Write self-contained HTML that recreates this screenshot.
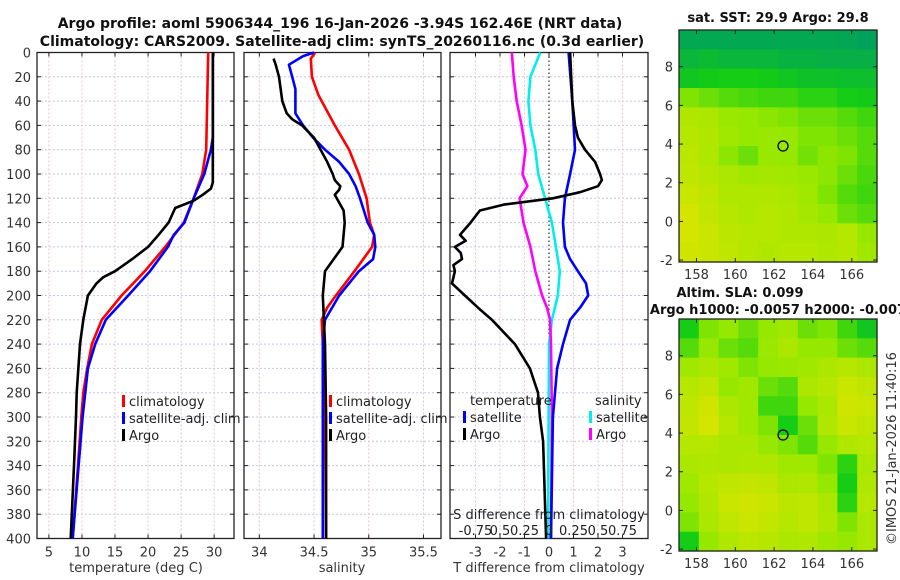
<!DOCTYPE html>
<html><head><meta charset="utf-8">
<style>
body{margin:0;background:#fff;}
svg{display:block;font-family:"DejaVu Sans","Liberation Sans",sans-serif;}
.tk{font-size:13px;fill:#333;}
.tt{font-size:13px;font-weight:bold;fill:#111;}
.tm{font-size:14px;font-weight:bold;fill:#111;}
.lg{font-size:13px;fill:#222;}
</style></head>
<body>
<svg id="chart" width="900" height="580" viewBox="0 0 900 580">
<text class="tm" x="340" y="28" text-anchor="middle">Argo profile: aoml 5906344_196 16-Jan-2026 -3.94S 162.46E (NRT data)</text>
<text class="tm" x="342" y="46" text-anchor="middle">Climatology: CARS2009. Satellite-adj clim: synTS_20260116.nc (0.3d earlier)</text>
<text class="tt" x="778" y="22" text-anchor="middle">sat. SST: 29.9 Argo: 29.8</text>
<text class="tt" x="740" y="297" text-anchor="middle">Altim. SLA: 0.099</text>
<text class="tt" x="778" y="314" text-anchor="middle">Argo h1000: -0.0057 h2000: -0.007</text>
<text class="tk" transform="translate(896,545) rotate(-90)">©IMOS 21-Jan-2026 11:40:16</text>
<g id="g"></g>
</svg>
<script>
// ---------- data ----------
const depthTicks=[0,20,40,60,80,100,120,140,160,180,200,220,240,260,280,300,320,340,360,380,400];
const tempTicks=[5,10,15,20,25,30];
const salTicks=[34,34.5,35,35.5];
const dTTicks=[-3,-2,-1,0,1,2,3];
const dSTickLabels=["-0.75","0.5","0.25","0","0.25","0.5","0.75"];
const dSTickVals=[-0.75,-0.5,-0.25,0,0.25,0.5,0.75];

const tClimD=[0,80,100,120,140,150,160,180,200,220,240,260,280,300,340,400];
const tClimV=[29.1,28.8,28.2,26.9,25.4,24,22.6,19.5,16,13,11.5,10.8,10.2,9.9,9.4,8.6];
const tSatD=[0,70,80,100,120,140,150,160,180,200,220,240,260,300,340,400];
const tSatV=[29.8,29.8,29.5,28.5,26.9,25.5,23.9,23,20.3,17,13.6,12,10.9,10.1,9.5,8.6];
const tArgoD=[0,107,112,117,122,128,140,150,160,170,180,185,190,200,220,240,280,300,340,400];
const tArgoV=[29.8,29.8,29.5,28.3,26.9,24.1,23.1,21.6,20,17.6,15,13.2,12.2,10.9,10.2,9.7,9.2,9.1,8.8,8.3];

const sClimD=[0,5,20,35,40,60,80,100,120,140,150,160,180,200,210,220,240,300,400];
const sClimV=[34.51,34.47,34.48,34.54,34.57,34.69,34.82,34.91,34.98,35.01,35.05,35.03,34.87,34.7,34.62,34.57,34.58,34.6,34.61];
const sSatD=[0,3,10,20,30,50,60,70,80,90,100,110,120,140,150,160,170,180,200,220,240,300,400];
const sSatV=[34.5,34.4,34.27,34.3,34.33,34.33,34.4,34.49,34.6,34.73,34.82,34.88,34.92,34.99,35.05,35.06,35.04,34.91,34.73,34.6,34.58,34.58,34.58];
const sArgoD=[5,10,20,40,50,55,60,70,80,90,100,105,110,113,117,122,130,140,160,170,180,200,220,240,300,400];
const sArgoV=[34.13,34.15,34.18,34.21,34.25,34.3,34.39,34.5,34.56,34.62,34.67,34.69,34.74,34.73,34.69,34.72,34.77,34.78,34.76,34.68,34.6,34.58,34.59,34.6,34.61,34.61];

const dTSatD=[0,40,80,100,120,140,160,170,180,190,200,210,220,240,260,300,400];
const dTSatV=[0.8,0.95,1.06,0.86,0.65,0.57,0.65,0.86,1.18,1.51,1.6,1.27,0.86,0.57,0.33,0.16,0.08];
const dTArgoD=[0,40,60,70,80,90,100,105,110,115,120,125,130,140,150,155,160,165,170,175,180,190,200,210,220,240,260,280,300,320,400];
const dTArgoV=[0.86,0.95,1.06,1.18,1.47,1.88,2.08,2.16,2.0,1.27,0.16,-1.8,-2.82,-3.2,-3.63,-3.4,-3.84,-3.6,-3.55,-3.9,-3.84,-3.96,-3.43,-2.9,-2.33,-1.39,-0.78,-0.45,-0.37,-0.24,-0.12];
const dSSatD=[0,10,20,40,60,80,100,120,140,160,180,200,220,240,400];
const dSSatV=[-0.09,-0.14,-0.19,-0.21,-0.19,-0.14,-0.11,-0.04,0.03,0.07,0.11,0.09,0.03,0,-0.01];
const dSArgoD=[0,20,40,60,80,100,110,120,140,160,180,200,210,220,240,300,400];
const dSArgoV=[-0.38,-0.36,-0.33,-0.28,-0.24,-0.27,-0.22,-0.3,-0.26,-0.19,-0.14,-0.07,-0.02,0.01,0.02,0.03,0.02];

const lonTicks=[158,160,162,164,166];
const latTicks=[-2,0,2,4,6,8];
const sstGrid=[
[0.05,0.05,0.05,0.05,0.05,0.05,0.05,0.05,0.04,0.02],
[0.15,0.18,0.15,0.15,0.15,0.12,0.12,0.1,0.1,0.1],
[0.25,0.28,0.3,0.3,0.28,0.25,0.22,0.22,0.2,0.2],
[0.55,0.5,0.45,0.42,0.4,0.4,0.35,0.35,0.3,0.28],
[0.72,0.7,0.62,0.6,0.58,0.55,0.5,0.5,0.45,0.4],
[0.75,0.72,0.65,0.6,0.62,0.6,0.55,0.55,0.5,0.45],
[0.78,0.72,0.58,0.5,0.62,0.6,0.52,0.58,0.55,0.45],
[0.8,0.75,0.7,0.65,0.68,0.65,0.62,0.58,0.5,0.42],
[0.85,0.8,0.72,0.72,0.72,0.7,0.65,0.55,0.45,0.4],
[0.9,0.82,0.75,0.72,0.75,0.72,0.68,0.6,0.5,0.45],
[0.9,0.85,0.78,0.75,0.75,0.72,0.72,0.7,0.75,0.6],
[0.88,0.85,0.8,0.75,0.72,0.75,0.75,0.72,0.75,0.65]];
const slaGrid=[
[0.3,0.55,0.6,0.5,0.6,0.65,0.5,0.55,0.4,0.25],
[0.45,0.6,0.5,0.45,0.62,0.7,0.6,0.6,0.5,0.45],
[0.65,0.7,0.65,0.55,0.6,0.62,0.65,0.7,0.75,0.7],
[0.75,0.8,0.6,0.65,0.5,0.45,0.7,0.75,0.85,0.8],
[0.8,0.88,0.7,0.65,0.4,0.4,0.6,0.7,0.88,0.85],
[0.82,0.9,0.75,0.65,0.55,0.3,0.5,0.72,0.85,0.8],
[0.75,0.75,0.7,0.7,0.6,0.55,0.45,0.6,0.72,0.75],
[0.7,0.72,0.7,0.72,0.72,0.65,0.65,0.55,0.35,0.7],
[0.65,0.75,0.8,0.82,0.8,0.7,0.72,0.6,0.3,0.72],
[0.6,0.72,0.85,0.88,0.85,0.78,0.8,0.7,0.35,0.75],
[0.55,0.7,0.8,0.85,0.82,0.75,0.8,0.72,0.55,0.7],
[0.3,0.6,0.72,0.78,0.75,0.7,0.72,0.65,0.6,0.7]];
const argoLon=162.46, argoLat=3.9;

// ---------- drawing ----------
const NS='http://www.w3.org/2000/svg';
const G=document.getElementById('g');
function mk(tag,attrs,parent){const e=document.createElementNS(NS,tag);for(const k in attrs)e.setAttribute(k,attrs[k]);(parent||G).appendChild(e);return e;}
const Y0=52.5, YS=1.215;
const yD=d=>Y0+d*YS;
const panels=[
 {x0:37,x1:234,lo:3.2,hi:33},
 {x0:244,x1:441,lo:33.86,hi:35.66},
 {x0:450,x1:648,lo:-4.04,hi:4.04}];
const sx=(p,v)=>p.x0+(v-p.lo)/(p.hi-p.lo)*(p.x1-p.x0);
const dSx=v=>549+v*98;
const YB=yD(400);

panels.forEach((p,i)=>{
  const grid=mk('g',{});
  
  
  depthTicks.forEach(d=>{
    if(d===0||d===400)return;
    mk('line',{x1:p.x0,x2:p.x1,y1:yD(d),y2:yD(d),stroke:'#c4c8e6','stroke-dasharray':'2,2','stroke-width':1},grid);
    mk('line',{x1:p.x0,x2:p.x0+4,y1:yD(d),y2:yD(d),stroke:'#222'},grid);
    mk('line',{x1:p.x1-4,x2:p.x1,y1:yD(d),y2:yD(d),stroke:'#222'},grid);
  });
  const xt=i===0?tempTicks:i===1?salTicks:dTTicks;
  xt.forEach(v=>{
    const x=sx(p,v);
    mk('line',{x1:x,x2:x,y1:Y0,y2:YB,stroke:'#e0c8c8','stroke-dasharray':'2,2'},grid);
    mk('line',{x1:x,x2:x,y1:YB-4,y2:YB,stroke:'#222'},grid);
    mk('line',{x1:x,x2:x,y1:Y0,y2:Y0+4,stroke:'#222'},grid);
    const t=mk('text',{x:x,y:YB+18,'text-anchor':'middle',class:'tk'},grid);
    t.textContent=String(v);
    
    
  });
  const box=mk('rect',{x:p.x0,y:Y0,width:p.x1-p.x0,height:YB-Y0,fill:'none',stroke:'#222','stroke-width':1.3});
  
  
});
depthTicks.forEach(d=>{
  const t=mk('text',{x:31,y:yD(d)+5,'text-anchor':'end',class:'tk'});
  t.textContent=String(d);
  
  
});
const axt=[['temperature (deg C)',136,'x-axis-title-temperature'],['salinity',342,'x-axis-title-salinity'],['T difference from climatology',549,'x-axis-title-t-difference']];
axt.forEach(a=>{const t=mk('text',{x:a[1],y:572,'text-anchor':'middle',class:'tk'});t.textContent=a[0];});

mk('line',{x1:549,x2:549,y1:Y0,y2:YB,stroke:'#000','stroke-dasharray':'1.5,2.5'});

function line(ds,vs,xf,col,name){
  const pts=ds.map((d,k)=>xf(vs[k]).toFixed(1)+','+yD(d).toFixed(1)).join(' ');
  const e=mk('polyline',{points:pts,fill:'none',stroke:col,'stroke-width':2.6,'stroke-linejoin':'round'});
  
  
}
const P1=v=>sx(panels[0],v),P2=v=>sx(panels[1],v),P3=v=>sx(panels[2],v);
line(tClimD,tClimV,P1,'#f00','temp-climatology-line');
line(tSatD,tSatV,P1,'#00f','temp-satellite-line');
line(tArgoD,tArgoV,P1,'#000','temp-argo-line');
line(sClimD,sClimV,P2,'#f00','sal-climatology-line');
line(sSatD,sSatV,P2,'#00f','sal-satellite-line');
line(sArgoD,sArgoV,P2,'#000','sal-argo-line');
line(dSSatD,dSSatV,dSx,'#0ee','ds-satellite-line');
line(dSArgoD,dSArgoV,dSx,'#f0f','ds-argo-line');
line(dTSatD,dTSatV,P3,'#00f','dt-satellite-line');
line(dTArgoD,dTArgoV,P3,'#000','dt-argo-line');

function leg(x,y,col,txt,name){
  mk('rect',{x:x,y:y-11,width:3,height:12,fill:col});
  const t=mk('text',{x:x+7,y:y,class:'lg'});t.textContent=txt;
  
  
}
leg(122,406,'#f00','climatology','legend-climatology');
leg(122,423,'#00f','satellite-adj. clim','legend-satellite-adj');
leg(122,440,'#000','Argo','legend-argo');
leg(329,406,'#f00','climatology','legend2-climatology');
leg(329,423,'#00f','satellite-adj. clim','legend2-satellite-adj');
leg(329,440,'#000','Argo','legend2-argo');
let t=mk('text',{x:470,y:405,class:'lg'});t.textContent='temperature';

t=mk('text',{x:595,y:405,class:'lg'});t.textContent='salinity';

leg(463,422,'#00f','satellite','legend3-t-satellite');
leg(463,439,'#000','Argo','legend3-t-argo');
leg(589,422,'#0ee','satellite','legend3-s-satellite');
leg(589,439,'#f0f','Argo','legend3-s-argo');
t=mk('text',{x:549,y:519,'text-anchor':'middle',class:'lg'});t.textContent='S difference from climatology';

dSTickVals.forEach((v,k)=>{
  const tt=mk('text',{x:dSx(v),y:535,'text-anchor':'middle',class:'lg'});tt.textContent=dSTickLabels[k];
  
  
});

function col(v){
  const st=[[0,[0,160,95]],[0.3,[20,205,20]],[0.6,[150,232,0]],[1,[232,228,0]]];
  for(let i=1;i<st.length;i++){if(v<=st[i][0]){const a=st[i-1],b=st[i];const f=(v-a[0])/(b[0]-a[0]);return 'rgb('+a[1].map((c,j)=>Math.round(c+(b[1][j]-c)*f)).join(',')+')';}}
  return 'rgb(232,228,0)';
}
function map(gridV,top,bottom,name){
  const x0=679,x1=877,lon0=157.1,lon1=167.3,lat0=9.9,lat1=-2.1;
  const mx=l=>x0+(l-lon0)/(lon1-lon0)*(x1-x0);
  const my=l=>top+(lat0-l)/(lat0-lat1)*(bottom-top);
  const g=mk('g',{});
  
  
  const R=gridV.length,C=gridV[0].length,cw=(x1-x0)/C,ch=(bottom-top)/R;
  gridV.forEach((row,r)=>row.forEach((v,c)=>{
    mk('rect',{x:x0+c*cw,y:top+r*ch,width:cw+0.6,height:ch+0.6,fill:col(v)},g);
  }));
  mk('rect',{x:x0,y:top,width:x1-x0,height:bottom-top,fill:'none',stroke:'#222','stroke-width':1.3},g);
  lonTicks.forEach(l=>{
    mk('line',{x1:mx(l),x2:mx(l),y1:bottom,y2:bottom-4,stroke:'#222'},g);
    mk('line',{x1:mx(l),x2:mx(l),y1:top,y2:top+4,stroke:'#222'},g);
    const tt=mk('text',{x:mx(l),y:bottom+17,'text-anchor':'middle',class:'tk'},g);tt.textContent=String(l);
  });
  latTicks.forEach(l=>{
    mk('line',{x1:x0,x2:x0+4,y1:my(l),y2:my(l),stroke:'#222'},g);
    mk('line',{x1:x1-4,x2:x1,y1:my(l),y2:my(l),stroke:'#222'},g);
    const tt=mk('text',{x:673,y:my(l)+5,'text-anchor':'end',class:'tk'},g);tt.textContent=String(l);
  });
  const c=mk('circle',{cx:mx(argoLon),cy:my(argoLat),r:5,fill:'none',stroke:'#000','stroke-width':1.3},g);
  
  
}
map(sstGrid,30,262,'sst-map');
map(slaGrid,319,551,'sla-map');
</script>
</body></html>
